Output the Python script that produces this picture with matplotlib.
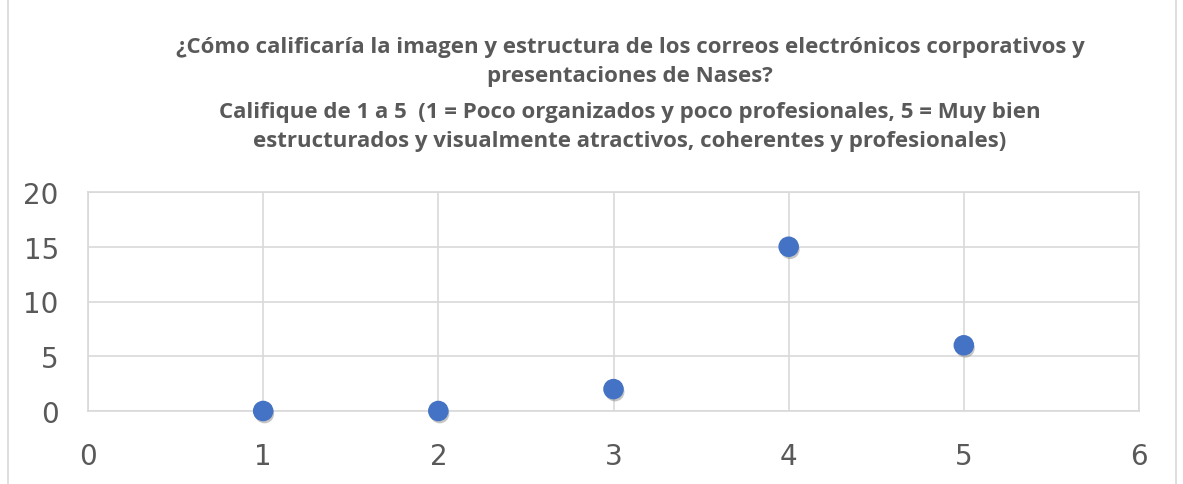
import matplotlib.pyplot as plt
import matplotlib.patheffects as pe
from matplotlib.patches import Rectangle

# datos
calificacion = [1, 2, 3, 4, 5]
respuestas = [0, 0, 2, 15, 6]

titulo_1 = ("¿Cómo calificaría la imagen y estructura de los correos electrónicos corporativos y\n"
            "presentaciones de Nases?")
titulo_2 = ("Califique de 1 a 5  (1 = Poco organizados y poco profesionales, 5 = Muy bien\n"
            "estructurados y visualmente atractivos, coherentes y profesionales)")

gris = "#595959"
linea = "#D9D9D9"

fig = plt.figure(figsize=(11.83, 4.85), dpi=100)
fig.patches.append(Rectangle((8 / 1183, -0.05), (1176 - 8) / 1183, 1.2 - 6 / 485,
                             transform=fig.transFigure, fill=False,
                             edgecolor=linea, lw=1.2))

ax = fig.add_axes([88 / 1183, 1 - 412 / 485, (1139 - 88) / 1183, (412 - 193) / 485])

ax.scatter(calificacion, respuestas, s=190, color="#4472C4", zorder=3, clip_on=False,
           path_effects=[pe.SimplePatchShadow(offset=(1, -2), shadow_rgbFace="#808080", alpha=0.45),
                         pe.Normal()])

ax.set_xlim(0, 6)
ax.set_ylim(0, 20)
ax.set_xticks(range(0, 7))
ax.set_yticks(range(0, 21, 5))
ax.grid(True, color=linea, lw=1.2)
ax.set_axisbelow(True)
for s in ax.spines.values():
    s.set_color(linea)
    s.set_linewidth(1.2)
ax.tick_params(length=0, labelsize=20, labelcolor=gris)
ax.tick_params(axis="x", pad=22)
ax.tick_params(axis="y", pad=21)

fig.text(630 / 1183, 1 - 62 / 485, titulo_1, ha="center", va="center", fontsize=16,
         fontweight="bold", color=gris, family="Open Sans", linespacing=1.45)
fig.text(630 / 1183, 1 - 127 / 485, titulo_2, ha="center", va="center", fontsize=16,
         fontweight="bold", color=gris, family="Open Sans", linespacing=1.45)

fig.savefig("out.png", dpi=100)
